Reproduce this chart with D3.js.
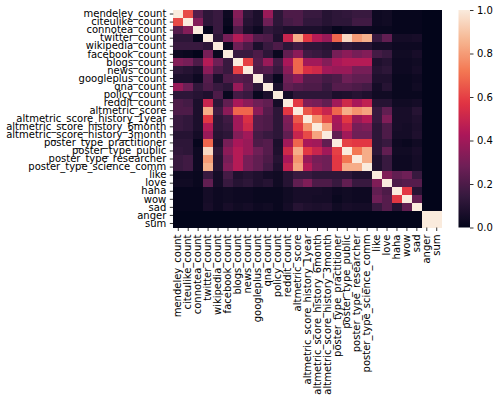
<html>
<head>
    <meta charset="utf-8">
    <script src="https://d3js.org/d3.v7.min.js"></script>
    <title>correlation heatmap</title>
</head>
<style>
    body { margin: 0; background: #fff; }
    text { font-family: "DejaVu Sans", sans-serif; }
    .axis .domain { stroke: none; }
    .axis line { stroke: #000; stroke-width: 0.8; }
    .axis text { font-size: 10px; fill: #000; }
</style>
<body>
<svg id="chart"></svg>
<script>
// variable names, same order on both axes
const labels = [
    "mendeley_count", "citeulike_count", "connotea_count", "twitter_count",
    "wikipedia_count", "facebook_count", "blogs_count", "news_count",
    "googleplus_count", "qna_count", "policy_count", "reddit_count",
    "altmetric_score", "altmetric_score_history_1year", "altmetric_score_history_6month",
    "altmetric_score_history_3month", "poster_type_practitioner", "poster_type_public",
    "poster_type_researcher", "poster_type_science_comm", "like", "love", "haha",
    "wow", "sad", "anger", "sum"
];

// correlation values, one row per label
const corrRows = [
    [1, .62, .22, .12, .15, .03, .33, .12, .07, .38, .12, .20, .20, .15, .15, .10, .12, .13, .15, .15, .03, .04, .01, .01, .01, 0, 0],
    [.62, 1, .33, .12, .15, .02, .30, .10, .07, .28, .12, .18, .20, .13, .13, .10, .12, .12, .17, .17, .03, .04, .01, .01, .01, 0, 0],
    [.22, .33, 1, .01, .15, .00, .20, .07, .03, .13, .10, .07, .07, .07, .07, .05, .01, .03, .03, .03, .02, .02, .01, .01, .01, 0, 0],
    [.12, .12, .01, 1, .12, .30, .45, .35, .22, .20, .08, .50, .84, .58, .45, .38, .68, .95, .80, .85, .15, .25, .05, .05, .06, 0, 0],
    [.15, .15, .15, .12, 1, .02, .28, .20, .07, .15, .20, .12, .17, .12, .12, .10, .08, .12, .10, .10, .05, .05, .03, .03, .03, 0, 0],
    [.03, .02, .00, .30, .02, 1, .15, .15, .20, .12, .02, .25, .35, .17, .15, .12, .30, .35, .30, .33, .18, .15, .04, .04, .06, 0, 0],
    [.33, .30, .20, .45, .28, .15, 1, .60, .22, .38, .18, .42, .68, .40, .40, .33, .42, .45, .45, .45, .08, .10, .03, .03, .04, 0, 0],
    [.12, .10, .07, .35, .20, .15, .60, 1, .20, .22, .15, .35, .68, .55, .52, .40, .38, .38, .30, .30, .10, .12, .03, .03, .05, 0, 0],
    [.07, .07, .03, .22, .07, .20, .22, .20, 1, .12, .02, .28, .35, .22, .22, .18, .20, .28, .25, .25, .08, .08, .02, .02, .03, 0, 0],
    [.38, .28, .13, .20, .15, .12, .38, .22, .12, 1, .07, .25, .22, .20, .20, .15, .22, .22, .20, .18, .05, .10, .02, .02, .04, 0, 0],
    [.12, .12, .10, .08, .20, .02, .18, .15, .02, .07, 1, .05, .12, .12, .12, .12, .07, .08, .10, .08, .04, .04, .02, .02, .02, 0, 0],
    [.20, .18, .07, .50, .12, .25, .42, .35, .28, .25, .05, 1, .58, .32, .30, .25, .40, .52, .42, .48, .10, .10, .04, .04, .05, 0, 0],
    [.20, .20, .07, .84, .17, .35, .68, .68, .35, .22, .12, .58, 1, .65, .58, .50, .68, .84, .78, .82, .15, .25, .06, .06, .10, 0, 0],
    [.15, .13, .07, .58, .12, .17, .40, .55, .22, .20, .12, .32, .65, 1, .78, .62, .42, .58, .38, .45, .15, .32, .06, .06, .08, 0, 0],
    [.15, .13, .07, .45, .12, .15, .40, .52, .22, .20, .12, .30, .58, .78, 1, .82, .40, .50, .30, .32, .12, .20, .06, .05, .07, 0, 0],
    [.10, .10, .05, .38, .10, .12, .33, .40, .18, .15, .12, .25, .50, .62, .82, 1, .25, .40, .28, .28, .12, .20, .05, .05, .08, 0, 0],
    [.12, .12, .01, .68, .08, .30, .42, .38, .20, .22, .07, .40, .68, .42, .40, .25, 1, .60, .58, .58, .12, .15, .03, .02, .04, 0, 0],
    [.13, .12, .03, .95, .12, .35, .45, .38, .28, .22, .08, .52, .84, .58, .50, .40, .60, 1, .72, .84, .12, .25, .04, .04, .06, 0, 0],
    [.15, .17, .03, .80, .10, .30, .45, .30, .25, .20, .10, .42, .78, .38, .30, .28, .58, .72, 1, .84, .08, .15, .03, .03, .05, 0, 0],
    [.15, .17, .03, .85, .10, .33, .45, .30, .25, .18, .08, .48, .82, .45, .32, .28, .58, .84, .84, 1, .08, .15, .03, .03, .05, 0, 0],
    [.03, .03, .02, .15, .05, .18, .08, .10, .08, .05, .04, .10, .15, .15, .12, .12, .12, .12, .08, .08, 1, .32, .25, .28, .15, 0, 0],
    [.04, .04, .02, .25, .05, .15, .10, .12, .08, .10, .04, .10, .25, .32, .20, .20, .15, .25, .15, .15, .32, 1, .20, .22, .22, 0, 0],
    [.01, .01, .01, .05, .03, .04, .03, .03, .02, .02, .02, .04, .06, .06, .06, .05, .03, .04, .03, .03, .25, .20, 1, .58, .10, 0, 0],
    [.01, .01, .01, .05, .03, .04, .03, .03, .02, .02, .02, .04, .06, .06, .05, .05, .02, .04, .03, .03, .28, .22, .58, 1, .25, 0, 0],
    [.01, .01, .01, .06, .03, .06, .04, .05, .03, .04, .02, .05, .10, .08, .07, .08, .04, .06, .05, .05, .15, .22, .10, .25, 1, 0, 0],
    [0, 0, 0, 0, 0, 0, 0, 0, 0, 0, 0, 0, 0, 0, 0, 0, 0, 0, 0, 0, 0, 0, 0, 0, 0, 1, 1],
    [0, 0, 0, 0, 0, 0, 0, 0, 0, 0, 0, 0, 0, 0, 0, 0, 0, 0, 0, 0, 0, 0, 0, 0, 0, 1, 1]
];

// colorbar ticks
const cbarTicks = [0.0, 0.2, 0.4, 0.6, 0.8, 1.0];

// seaborn "rocket" colormap, sampled
const rocketStops = [0, 1/7, 2/7, 3/7, 4/7, 5/7, 6/7, 1];
const rocketColors = ["#03051a", "#35193e", "#701f57", "#ad1759", "#e13342", "#f37651", "#f6b48f", "#faebdd"];

const width = 499, height = 402;
const plot = {left: 173.3, right: 441.7, top: 10, bottom: 227.5};
const cbar = {left: 458.5, right: 470};

let svg = d3.select("svg#chart")
            .attr("width", width)
            .attr("height", height);

const xScale = d3.scaleBand().domain(labels).range([plot.left, plot.right]);
const yScale = d3.scaleBand().domain(labels).range([plot.top, plot.bottom]);
const color = d3.scaleLinear().domain(rocketStops).range(rocketColors)
                .interpolate(d3.interpolateRgb).clamp(true);

// cells
let cells = [];
corrRows.forEach((row, r) => {
    row.forEach((v, c) => cells.push({row: labels[r], col: labels[c], value: v}));
});

svg.append("g")
   .selectAll("rect")
   .data(cells)
   .join("rect")
   .attr("x", d => xScale(d.col))
   .attr("y", d => yScale(d.row))
   .attr("width", xScale.bandwidth() + 0.3)
   .attr("height", yScale.bandwidth() + 0.3)
   .attr("fill", d => color(d.value))
   .attr("shape-rendering", "crispEdges");

// y axis
svg.append("g")
   .attr("class", "axis")
   .attr("transform", `translate(${plot.left}, 0)`)
   .call(d3.axisLeft(yScale).tickSize(3.5).tickPadding(3.5));

// x axis, labels rotated
let xAxis = svg.append("g")
   .attr("class", "axis")
   .attr("transform", `translate(0, ${plot.bottom})`)
   .call(d3.axisBottom(xScale).tickSize(3.5).tickPadding(3.5));

xAxis.selectAll("text")
     .attr("transform", "rotate(-90)")
     .attr("x", -7)
     .attr("y", 0)
     .attr("dy", "0.32em")
     .attr("text-anchor", "end");

// colorbar
const cScale = d3.scaleLinear().domain([0, 1]).range([plot.bottom, plot.top]);

let grad = svg.append("defs")
              .append("linearGradient")
              .attr("id", "cbarGrad")
              .attr("x1", 0).attr("x2", 0)
              .attr("y1", 1).attr("y2", 0);

grad.selectAll("stop")
    .data(d3.range(0, 1.0001, 0.02))
    .join("stop")
    .attr("offset", d => d)
    .attr("stop-color", d => color(d));

svg.append("rect")
   .attr("x", cbar.left)
   .attr("y", plot.top)
   .attr("width", cbar.right - cbar.left)
   .attr("height", plot.bottom - plot.top)
   .attr("fill", "url(#cbarGrad)");

svg.append("g")
   .attr("class", "axis")
   .attr("transform", `translate(${cbar.right}, 0)`)
   .call(d3.axisRight(cScale).tickValues(cbarTicks).tickFormat(d3.format(".1f"))
           .tickSize(3.5).tickPadding(3.5));
</script>
</body>
</html>
